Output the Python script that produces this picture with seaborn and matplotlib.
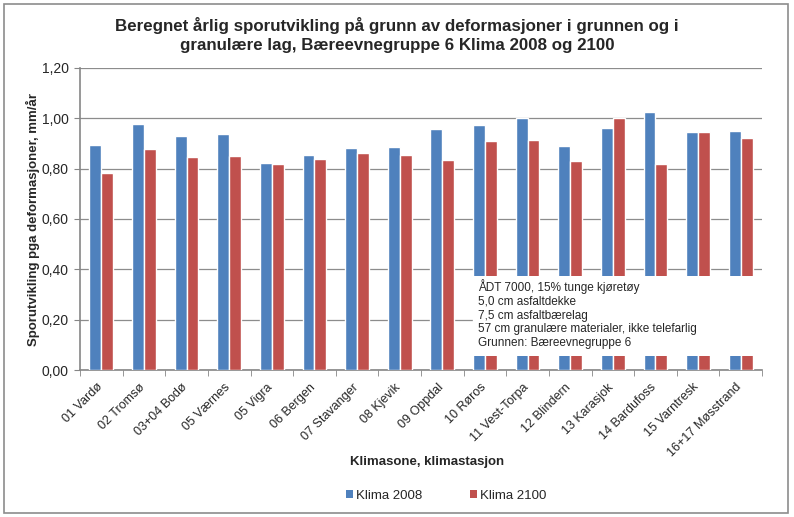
import matplotlib
matplotlib.use("Agg")
import matplotlib.pyplot as plt
import matplotlib.patches as mpatches
import matplotlib.transforms as mtrans
from matplotlib.ticker import FuncFormatter, FixedLocator
import seaborn as sns
import pandas as pd
import numpy as np

categories = ["01 Vardø", "02 Tromsø", "03+04 Bodø", "05 Værnes", "05 Vigra", "06 Bergen",
              "07 Stavanger", "08 Kjevik", "09 Oppdal", "10 Røros", "11 Vest-Torpa",
              "12 Blindern", "13 Karasjok", "14 Bardufoss", "15 Varntresk", "16+17 Møsstrand"]
klima_2008 = [0.894, 0.977, 0.931, 0.939, 0.822, 0.853, 0.882, 0.886, 0.956, 0.973, 1.000,
              0.889, 0.961, 1.024, 0.947, 0.950]
klima_2100 = [0.784, 0.878, 0.846, 0.849, 0.818, 0.838, 0.862, 0.853, 0.836, 0.911, 0.915,
              0.832, 1.000, 0.820, 0.947, 0.923]
series_names = ["Klima 2008", "Klima 2100"]
colors = ["#4F81BD", "#C0504D"]

df = pd.DataFrame({
    "Klimasone": categories * 2,
    "Verdi": klima_2008 + klima_2100,
    "Serie": [series_names[0]] * len(categories) + [series_names[1]] * len(categories),
})

sns.set_style("white")
plt.rcParams["font.family"] = ["Liberation Sans", "DejaVu Sans"]

fig = plt.figure(figsize=(7.94, 5.17), dpi=100)
ax = fig.add_axes([80 / 794, 1 - 370 / 517, (762 - 80) / 794, (370 - 68) / 517])

sns.barplot(data=df, x="Klimasone", y="Verdi", hue="Serie", palette=colors,
            width=0.56, ax=ax, saturation=1, legend=False, zorder=3)

ax.set_ylim(0, 1.2)
ax.set_xlim(-0.5, len(categories) - 0.5)
ax.set_yticks(np.arange(0, 1.21, 0.2))
ax.yaxis.set_major_formatter(FuncFormatter(lambda v, p: f"{v:.2f}".replace(".", ",")))
ax.grid(axis="y", color="#8C8C8C", linewidth=0.9, zorder=0)
ax.set_axisbelow(True)

for s in ["top", "right"]:
    ax.spines[s].set_visible(False)
for s in ["left", "bottom"]:
    ax.spines[s].set_color("#868686")
    ax.spines[s].set_linewidth(1.2)

ax.tick_params(axis="y", which="major", direction="out", length=4, color="#868686",
               labelsize=10, pad=4, left=True)
ax.set_xticks(range(len(categories)))
ax.set_xticklabels(categories, rotation=45, ha="right", rotation_mode="anchor", fontsize=9)
ax.tick_params(axis="x", which="major", length=0, pad=8)
offset = mtrans.ScaledTranslation(-5 / 100, 0, fig.dpi_scale_trans)
for lbl in ax.get_xticklabels():
    lbl.set_transform(lbl.get_transform() + offset)
ax.xaxis.set_minor_locator(FixedLocator(np.arange(-0.5, len(categories), 1.0)))
ax.tick_params(axis="x", which="minor", direction="out", length=4, color="#868686", bottom=True)

ax.set_xlabel("")
ax.set_ylabel("Sporutvikling pga deformasjoner, mm/år", fontsize=9.5, fontweight="bold", labelpad=1)

fig.text(427 / 794, 1 - 462 / 517, "Klimasone, klimastasjon", ha="center", va="center",
         fontsize=9.5, fontweight="bold")

fig.text(0.5, 1 - 35 / 517, "Beregnet årlig sporutvikling på grunn av deformasjoner i grunnen og i\n"
         "granulære lag, Bæreevnegruppe 6 Klima 2008 og 2100",
         ha="center", va="center", fontsize=12.2, fontweight="bold", linespacing=1.3)

# Info box inside the plot area
bx0, bx1 = 473, 762
by0, by1 = 276, 356
rect = mpatches.Rectangle((bx0 / 794, 1 - by1 / 517), (bx1 - bx0) / 794, (by1 - by0) / 517,
                          transform=fig.transFigure, facecolor="white", edgecolor="none", zorder=5)
fig.patches.append(rect)
info = ("ÅDT 7000, 15% tunge kjøretøy\n5,0 cm asfaltdekke\n7,5 cm asfaltbærelag\n"
        "57 cm granulære materialer, ikke telefarlig\nGrunnen: Bæreevnegruppe 6")
fig.text(478 / 794, 1 - 279 / 517, info, ha="left", va="top", fontsize=8.5,
         linespacing=1.2, zorder=6)

handles = [mpatches.Patch(facecolor=c, edgecolor="none", label=n) for c, n in zip(colors, series_names)]
fig.legend(handles=handles, loc="center", bbox_to_anchor=(446 / 794, 1 - 496 / 517), ncol=2,
           frameon=False, fontsize=9.5, handlelength=0.55, handleheight=0.55, handletextpad=0.2,
           columnspacing=3.6, borderpad=0)

border = mpatches.Rectangle((4 / 794, 4 / 517), 784 / 794, 509 / 517, transform=fig.transFigure,
                            facecolor="none", edgecolor="#8C8C8C", linewidth=1.2)
fig.patches.append(border)

fig.savefig("out.png", dpi=100)
